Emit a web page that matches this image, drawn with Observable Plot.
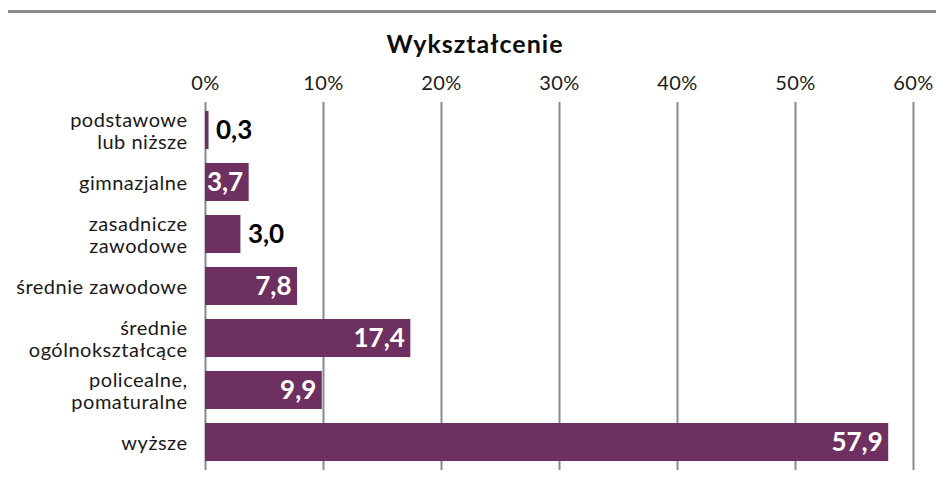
<!DOCTYPE html>
<html>
<head>
<meta charset="utf-8">
<script src="https://cdn.jsdelivr.net/npm/d3@7"></script>
<script src="https://cdn.jsdelivr.net/npm/@observablehq/plot@0.6"></script>
<style>
  html, body { margin: 0; padding: 0; background: #fff; }
  body { width: 936px; height: 486px; position: relative; overflow: hidden; font-family: Lato, sans-serif; }
  #rule { position: absolute; left: 8px; right: 0; top: 10px; height: 3px; background: #8c8c8c; }
  #title { position: absolute; left: 7px; width: 936px; top: 28px; text-align: center; font: bold 25px Lato, sans-serif; letter-spacing: 1px; color: #0d0d0d; line-height: 30px; }
  #chart { position: absolute; left: 0; top: 60px; }
  .vals, .vals text { letter-spacing: 0 !important; }
</style>
</head>
<body>
<div id="rule"></div>
<div id="title">Wykształcenie</div>
<div id="chart"></div>
<script>
const categories = [
  "podstawowe\nlub niższe",
  "gimnazjalne",
  "zasadnicze\nzawodowe",
  "średnie zawodowe",
  "średnie\nogólnokształcące",
  "policealne,\npomaturalne",
  "wyższe"
];
const values = [0.3, 3.7, 3.0, 7.8, 17.4, 9.9, 57.9];
const xTicks = [0, 10, 20, 30, 40, 50, 60];

const data = categories.map((c, i) => ({category: c, value: values[i]}));
const fmt = v => v.toFixed(1).replace(".", ",");
const insideThreshold = 3.5;
const inside = data.filter(d => d.value >= insideThreshold);
const outside = data.filter(d => d.value < insideThreshold);

const chart = Plot.plot({
  width: 936,
  height: 426,
  marginTop: 42,
  marginBottom: 16,
  marginLeft: 205,
  marginRight: 23,
  style: {fontFamily: "Lato, sans-serif", fontSize: "20px", color: "#1a1a1a", background: "white", letterSpacing: "0.5px", overflow: "visible"},
  x: {domain: [0, 60], axis: null},
  y: {domain: categories, paddingInner: 0.27, paddingOuter: 0.135, axis: null},
  marks: [
    Plot.gridX(xTicks, {stroke: "#8a8a8a", strokeOpacity: 1, strokeWidth: 2}),
    Plot.barX(data, {x: "value", y: "category", fill: "#6d3060"}),
    Plot.text(inside, {x: "value", y: "category", text: d => fmt(d.value), textAnchor: "end", dx: -6, fill: "white", fontWeight: "bold", fontSize: 26, className: "vals"}),
    Plot.text(outside, {x: "value", y: "category", text: d => fmt(d.value), textAnchor: "start", dx: 7, fill: "black", fontWeight: "bold", fontSize: 26, className: "vals"}),
    Plot.axisX(xTicks, {anchor: "top", tickSize: 0, tickPadding: 13, tickFormat: d => d + "%", fontSize: 20, fill: "#1a1a1a", label: null}),
    Plot.axisY({anchor: "left", tickSize: 0, tickPadding: 18, fontSize: 20, lineHeight: 1.1, fill: "#1a1a1a", label: null})
  ]
});
document.getElementById("chart").appendChild(chart);
</script>
</body>
</html>
